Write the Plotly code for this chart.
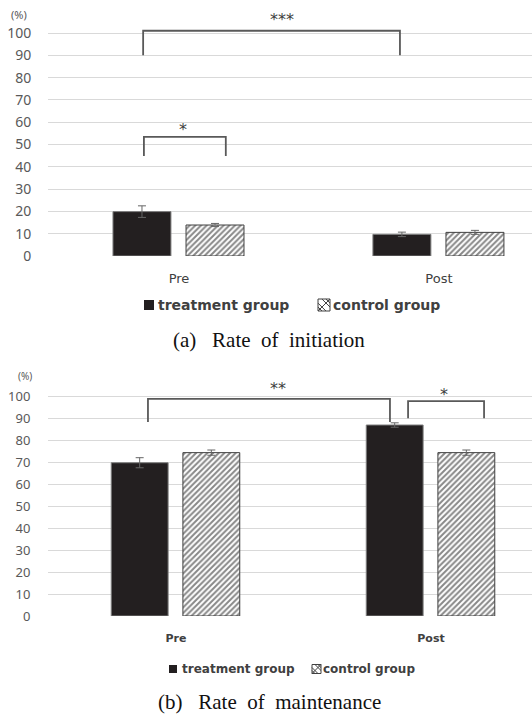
import plotly.graph_objects as go

# ---------------- data ----------------
categories = ["Pre", "Post"]
series_names = ["treatment group", "control group"]

init_treatment = [19.9, 9.7]
init_treatment_err = [2.6, 1.0]
init_control = [13.9, 10.6]
init_control_err = [0.7, 0.9]

maint_treatment = [69.9, 87.1]
maint_treatment_err = [2.3, 1.0]
maint_control = [74.5, 74.5]
maint_control_err = [1.2, 1.2]

y_ticks = [0, 10, 20, 30, 40, 50, 60, 70, 80, 90, 100]

# significance brackets: (x_left, x_right, y_low, y_high, label, label_x, label_y)
init_brackets = [(-0.138, 0.85, 90, 101, "***", 0.396, 106.0),
                 (-0.135, 0.18, 44.8, 53.4, "*", 0.015, 56.8)]
maint_brackets = [(-0.11, 0.839, 88.5, 99, "**", 0.40, 103.8),
                  (0.91, 1.208, 90.2, 98, "*", 1.051, 101.2)]

NB = "\u00a0"
captions = ["(a)" + NB * 3 + "Rate" + NB * 2 + "of" + NB * 2 + "initiation",
            "(b)" + NB * 3 + "Rate" + NB * 2 + "of" + NB * 2 + "maintenance"]

# ---------------- layout helpers ----------------
W, H = 532, 715
ML = 48


def px(x):
    return (x - ML) / (W - ML)


def py(y):
    return 1 - y / H


TREAT_FILL = "#231f20"
BAR_W = 0.223
OFF_T = -0.254
OFF_C = 0.027
xs = list(range(len(categories)))

fig = go.Figure()


def add_bars(xa, ya, tv, te, cv, ce):
    fig.add_trace(go.Bar(
        x=xs, y=tv, name=series_names[0], xaxis=xa, yaxis=ya,
        width=BAR_W, offset=OFF_T,
        marker=dict(color=TREAT_FILL, line=dict(color="#7f7f7f", width=1)),
        error_y=dict(type="data", array=te, color="#666666", thickness=1, width=4),
        showlegend=False))
    fig.add_trace(go.Bar(
        x=xs, y=cv, name=series_names[1], xaxis=xa, yaxis=ya,
        width=BAR_W, offset=OFF_C,
        marker=dict(color="white", line=dict(color="#404040", width=1),
                    pattern=dict(shape="/", fgcolor="#111111", bgcolor="white",
                                 size=4, solidity=0.5)),
        error_y=dict(type="data", array=ce, color="#666666", thickness=1, width=4),
        showlegend=False))


add_bars("x", "y", init_treatment, init_treatment_err, init_control, init_control_err)
add_bars("x2", "y2", maint_treatment, maint_treatment_err, maint_control, maint_control_err)

shapes = []
annotations = []


def add_brackets(brs, xr, yr, fsize):
    for (x0, x1, ylo, yhi, lab, lx, ly) in brs:
        shapes.append(dict(type="path", xref=xr, yref=yr,
                           path=f"M{x0},{ylo} L{x0},{yhi} L{x1},{yhi} L{x1},{ylo}",
                           line=dict(color="#595959", width=1.8)))
        annotations.append(dict(x=lx, y=ly, xref=xr, yref=yr, text=lab, showarrow=False,
                                font=dict(family="DejaVu Sans", size=fsize, color="#404040"),
                                xanchor="center", yanchor="middle"))


add_brackets(init_brackets, "x", "y", 16)
add_brackets(maint_brackets, "x2", "y2", 16)


def text_at(x, y, text, font, xanchor="center"):
    annotations.append(dict(x=px(x), y=py(y), xref="paper", yref="paper", text=text,
                            showarrow=False, xanchor=xanchor, yanchor="middle", font=font))


# "(%)" labels
text_at(19, 15, "(%)", dict(family="Noto Sans", size=11, color="#595959"))
text_at(25, 376, "(%)", dict(family="Noto Sans", size=10, color="#595959"))


# manual legends
def legend_items(yc, sq1, t1x, sq2, t2x, size, fsize):
    h = size / 2
    x0, x1 = sq1
    lfont = dict(family="DejaVu Sans", size=fsize, color="#404040", weight="bold")
    shapes.append(dict(type="rect", xref="paper", yref="paper",
                       x0=px(x0), x1=px(x1), y0=py(yc + h), y1=py(yc - h),
                       fillcolor=TREAT_FILL, line=dict(width=0)))
    text_at(t1x, yc, series_names[0], lfont, xanchor="left")
    a0, a1 = sq2
    s = a1 - a0
    shapes.append(dict(type="rect", xref="paper", yref="paper",
                       x0=px(a0), x1=px(a1), y0=py(yc + s / 2), y1=py(yc - s / 2),
                       fillcolor="white", line=dict(color="#404040", width=1)))
    for f in (0.33, 0.66):
        shapes.append(dict(type="line", xref="paper", yref="paper",
                           x0=px(a0), y0=py(yc + s / 2 - f * s),
                           x1=px(a0 + f * s), y1=py(yc + s / 2),
                           line=dict(color="#404040", width=1)))
        shapes.append(dict(type="line", xref="paper", yref="paper",
                           x0=px(a0 + f * s), y0=py(yc - s / 2),
                           x1=px(a1), y1=py(yc - s / 2 + (1 - f) * s),
                           line=dict(color="#404040", width=1)))
    shapes.append(dict(type="line", xref="paper", yref="paper",
                       x0=px(a0), y0=py(yc + s / 2), x1=px(a1), y1=py(yc - s / 2),
                       line=dict(color="#404040", width=1)))
    text_at(t2x, yc, series_names[1], lfont, xanchor="left")


legend_items(305, (144, 154), 156, (318, 330), 331, 10, 14)
legend_items(669, (169, 177), 180, (312, 321), 321, 8, 12)

# captions
cfont = dict(family="Liberation Serif", size=21, color="#111111")
text_at(269, 340, captions[0], cfont)
text_at(269.5, 702, captions[1], cfont)

ygrid = "#d9d9d9"
common_y = dict(range=[0, 110], tickvals=y_ticks, showgrid=True, gridcolor=ygrid,
                gridwidth=1, zeroline=False, showline=False, ticks="outside",
                tickcolor="rgba(0,0,0,0)", fixedrange=True, automargin=False)
common_x = dict(domain=[0, 1], tickvals=xs, ticktext=categories, showgrid=False,
                zeroline=False, showline=False, ticks="outside",
                tickcolor="rgba(0,0,0,0)", automargin=False, fixedrange=True)

fig.update_layout(
    width=W, height=H,
    margin=dict(l=ML, r=0, t=0, b=0, pad=0, autoexpand=False),
    paper_bgcolor="white", plot_bgcolor="white",
    barmode="overlay",
    showlegend=False,
    xaxis=dict(range=[-0.504, 1.358], anchor="y", ticklen=10,
               tickfont=dict(family="DejaVu Sans", size=13, color="#404040"), **common_x),
    yaxis=dict(domain=[py(256), py(10.7)], anchor="x", ticklen=13,
               tickfont=dict(family="Noto Sans", size=14, color="#595959"), **common_y),
    xaxis2=dict(range=[-0.502, 1.396], anchor="y2", ticklen=12,
                tickfont=dict(family="DejaVu Sans", size=11, color="#404040",
                              weight="bold"), **common_x),
    yaxis2=dict(domain=[py(616), py(374.8)], anchor="x2", ticklen=14,
                tickfont=dict(family="Noto Sans", size=13, color="#595959"), **common_y),
    shapes=shapes,
    annotations=annotations,
)

fig.write_html("out.html",
               config={"displayModeBar": False},
               post_script="document.body.style.margin='0px';"
                           "document.body.style.padding='0px';")
